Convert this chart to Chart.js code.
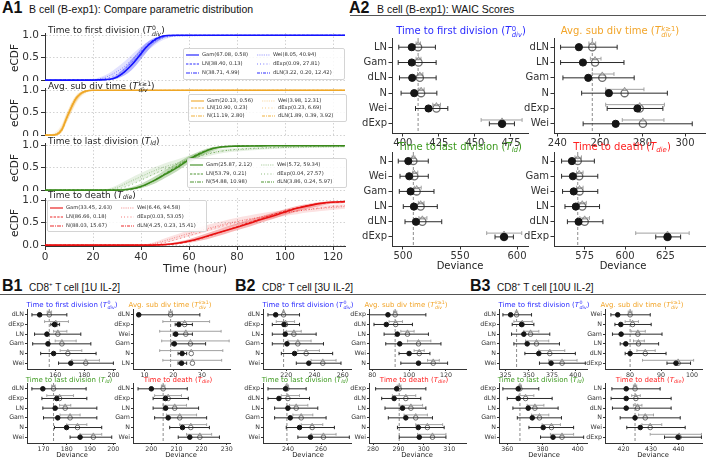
<!DOCTYPE html>
<html>
<head>
<meta charset="utf-8">
<script src="https://cdn.jsdelivr.net/npm/chart.js@4.4.1/dist/chart.umd.min.js"></script>
<style>
  body { margin: 0; width: 708px; height: 460px; position: relative; overflow: hidden; background: #fff;
         font-family: "DejaVu Sans", sans-serif; color: #222; }
  canvas { position: absolute; }
  .t { position: absolute; white-space: nowrap; line-height: 1; }
  .rule { position: absolute; height: 0; border-top: 1px solid #555; }
  .ss { display: inline-block; vertical-align: -0.45em; font-size: 0.68em; line-height: 0.95; margin-left: 0.5px; }
  .ss span { display: block; }
  sub { font-size: 0.7em; vertical-align: -0.3em; line-height: 0; }
  .lg { position: absolute; background: rgba(255,255,255,0.85); border: 1px solid #d4d4d4; border-radius: 2px; }
  .lg svg { position: absolute; }
  .lg .t { font-size: 5.2px; color: #333; }
</style>
</head>
<body>
<script>
// ---------- A1: eCDF curves (x = hours, y = cumulative fraction) ----------
const t0Hours = [0, 20, 25, 28, 30, 33, 36, 39, 42, 45, 48, 50, 55, 125];
const t0Gam   = [0, 0, 0.01, 0.03, 0.07, 0.18, 0.33, 0.52, 0.72, 0.87, 0.96, 0.99, 1, 1];
const t0LN    = [0, 0, 0.005, 0.02, 0.06, 0.17, 0.33, 0.53, 0.74, 0.89, 0.97, 0.99, 1, 1];
const t0Wei   = [0, 0.01, 0.06, 0.13, 0.19, 0.3, 0.45, 0.6, 0.73, 0.84, 0.92, 0.95, 0.985, 1];
const t0DExp  = [0, 0.005, 0.03, 0.08, 0.13, 0.24, 0.39, 0.56, 0.72, 0.85, 0.93, 0.96, 0.99, 1];
const t0GamLo = [0, 0, 0, 0.01, 0.03, 0.1, 0.22, 0.4, 0.6, 0.78, 0.9, 0.96, 0.99, 1];
const t0GamHi = [0, 0, 0.02, 0.06, 0.12, 0.27, 0.45, 0.64, 0.82, 0.93, 0.98, 1, 1, 1];
const t0WeiLo = [0, 0, 0.02, 0.06, 0.1, 0.2, 0.33, 0.48, 0.62, 0.75, 0.86, 0.91, 0.97, 1];
const t0WeiHi = [0, 0.03, 0.11, 0.2, 0.28, 0.41, 0.56, 0.7, 0.82, 0.91, 0.96, 0.98, 1, 1];

const subHours = [0, 3, 5, 7, 9, 10, 11, 13, 15, 17, 20, 125];
const subGam   = [0, 0, 0.02, 0.12, 0.38, 0.5, 0.62, 0.82, 0.93, 0.98, 1, 1];
const subLN    = [0, 0, 0.01, 0.1, 0.36, 0.5, 0.64, 0.84, 0.94, 0.985, 1, 1];
const subWei   = [0, 0.01, 0.05, 0.17, 0.4, 0.5, 0.6, 0.78, 0.9, 0.96, 0.995, 1];
const subDExp  = [0, 0, 0.03, 0.14, 0.38, 0.49, 0.6, 0.8, 0.92, 0.97, 0.995, 1];
const subGamLo = [0, 0, 0, 0.06, 0.28, 0.4, 0.52, 0.74, 0.88, 0.96, 0.99, 1];
const subGamHi = [0, 0.01, 0.05, 0.2, 0.48, 0.6, 0.72, 0.89, 0.97, 0.995, 1, 1];
const subWeiLo = [0, 0, 0.02, 0.1, 0.3, 0.4, 0.5, 0.7, 0.85, 0.93, 0.99, 1];
const subWeiHi = [0, 0.03, 0.1, 0.25, 0.5, 0.6, 0.7, 0.86, 0.95, 0.99, 1, 1];

const ldHours = [0, 25, 30, 35, 40, 45, 50, 55, 60, 65, 70, 75, 80, 90, 100, 110, 125];
const ldGam   = [0, 0, 0, 0.02, 0.08, 0.2, 0.35, 0.5, 0.68, 0.82, 0.93, 0.97, 0.98, 0.985, 0.99, 0.99, 0.99];
const ldLN    = [0, 0, 0, 0.01, 0.07, 0.2, 0.37, 0.53, 0.7, 0.84, 0.93, 0.97, 0.985, 0.99, 0.99, 0.99, 0.99];
const ldWei   = [0, 0, 0.06, 0.18, 0.3, 0.42, 0.52, 0.6, 0.7, 0.78, 0.84, 0.88, 0.9, 0.93, 0.95, 0.96, 0.97];
const ldDExp  = [0, 0, 0.02, 0.1, 0.22, 0.35, 0.47, 0.57, 0.67, 0.76, 0.83, 0.88, 0.91, 0.94, 0.96, 0.97, 0.98];
const ldGamLo = [0, 0, 0, 0, 0.04, 0.13, 0.27, 0.42, 0.6, 0.76, 0.88, 0.95, 0.97, 0.98, 0.985, 0.985, 0.985];
const ldGamHi = [0, 0, 0.01, 0.05, 0.14, 0.28, 0.44, 0.6, 0.76, 0.88, 0.96, 0.99, 1, 1, 1, 1, 1];
const ldWeiLo = [0, 0, 0.02, 0.11, 0.22, 0.33, 0.43, 0.52, 0.62, 0.71, 0.78, 0.83, 0.86, 0.9, 0.93, 0.94, 0.95];
const ldWeiHi = [0, 0.02, 0.11, 0.25, 0.38, 0.5, 0.6, 0.68, 0.77, 0.84, 0.89, 0.92, 0.94, 0.96, 0.97, 0.98, 0.99];

const dieHours = [0, 40, 45, 50, 55, 60, 65, 70, 75, 80, 85, 90, 95, 100, 105, 110, 115, 120, 125];
const dieGam   = [0, 0, 0, 0.01, 0.04, 0.09, 0.16, 0.24, 0.32, 0.4, 0.48, 0.57, 0.65, 0.74, 0.82, 0.88, 0.93, 0.96, 0.97];
const dieLN    = [0, 0, 0, 0.01, 0.03, 0.08, 0.15, 0.23, 0.32, 0.41, 0.5, 0.59, 0.68, 0.76, 0.83, 0.89, 0.93, 0.95, 0.96];
const dieWei   = [0, 0, 0.03, 0.1, 0.18, 0.26, 0.33, 0.4, 0.47, 0.53, 0.58, 0.63, 0.68, 0.72, 0.76, 0.79, 0.82, 0.84, 0.86];
const dieDExp  = [0, 0, 0.01, 0.06, 0.13, 0.21, 0.29, 0.37, 0.44, 0.51, 0.57, 0.62, 0.67, 0.72, 0.76, 0.8, 0.83, 0.86, 0.88];
const dieGamLo = [0, 0, 0, 0, 0.02, 0.05, 0.1, 0.17, 0.25, 0.33, 0.41, 0.5, 0.58, 0.67, 0.75, 0.82, 0.88, 0.92, 0.94];
const dieGamHi = [0, 0, 0.01, 0.03, 0.07, 0.13, 0.22, 0.31, 0.4, 0.48, 0.56, 0.64, 0.72, 0.8, 0.87, 0.92, 0.96, 0.98, 0.99];
const dieWeiLo = [0, 0, 0.01, 0.05, 0.12, 0.19, 0.26, 0.33, 0.39, 0.45, 0.5, 0.55, 0.6, 0.65, 0.69, 0.73, 0.76, 0.79, 0.81];
const dieWeiHi = [0, 0.01, 0.06, 0.15, 0.24, 0.33, 0.41, 0.48, 0.55, 0.61, 0.66, 0.71, 0.75, 0.79, 0.83, 0.86, 0.88, 0.9, 0.91];

const hourTicks = [0, 20, 40, 60, 80, 100, 120];
const cdfTicks = [0, 0.5, 1];

// legend text, column 1 then column 2
const t0Legend  = ['Gam(67.08, 0.58)', 'LN(38.40, 0.13)', 'N(38.71, 4.99)', 'Wei(8.05, 40.94)', 'dExp(0.09, 27.81)', 'dLN(3.22, 0.20, 12.42)'];
const subLegend = ['Gam(20.13, 0.56)', 'LN(10.90, 0.23)', 'N(11.19, 2.80)', 'Wei(3.98, 12.31)', 'dExp(0.23, 6.69)', 'dLN(1.89, 0.39, 3.92)'];
const ldLegend  = ['Gam(25.87, 2.12)', 'LN(53.79, 0.21)', 'N(54.88, 10.98)', 'Wei(5.72, 59.34)', 'dExp(0.04, 27.57)', 'dLN(3.86, 0.24, 5.97)'];
const dieLegend = ['Gam(33.45, 2.63)', 'LN(86.66, 0.18)', 'N(88.03, 15.67)', 'Wei(6.46, 94.58)', 'dExp(0.03, 53.05)', 'dLN(4.25, 0.23, 15.41)'];

// ---------- WAIC scores: filled dot = WAIC, open circle = PSIS-LOO, bars = intervals ----------
// A2 B cell
const a2T0Names = ['LN', 'Gam', 'dLN', 'N', 'Wei', 'dExp'];
const a2T0Dot = [406.2, 406.2, 406.5, 407.9, 417.8, 468.8];
const a2T0DotBar = [[397.2, 422.6], [396.8, 423.1], [397.7, 423.1], [398.8, 423.6], [408.8, 431.2], [460, 477.4]];
const a2T0Open = [410.6, 410.9, 411.8, 412.7, 423.3, 468.8];
const a2T0OpenBar = [[409.2, 412.2], [409.2, 412.6], [410.2, 413.9], [411.1, 414.8], [420.8, 426.1], [454.3, 482.7]];

const a2SubNames = ['dLN', 'LN', 'Gam', 'N', 'dExp', 'Wei'];
const a2SubDot = [250.1, 252, 254.5, 264.2, 277.6, 267.4];
const a2SubDotBar = [[241.5, 268.1], [241.5, 271.3], [242.6, 276.1], [251.4, 291.7], [263.4, 289.6], [252.1, 303.4]];
const a2SubOpen = [256.4, 257.7, 261.1, 271.6, 278.7, 280.2];
const a2SubOpenBar = [[254.8, 258], [255.5, 260.5], [256.4, 266.6], [262.7, 280.7], [262.7, 290.3], [270.5, 290.1]];

const a2LdNames = ['N', 'Wei', 'Gam', 'LN', 'dLN', 'dExp'];
const a2LdDot = [504.7, 505.5, 506.7, 509.6, 511.4, 588.6];
const a2LdDotBar = [[495.9, 522.2], [497.4, 522.2], [496.8, 527.2], [500.3, 530.1], [501.8, 534], [580.7, 596.8]];
const a2LdOpen = [509.1, 510, 512, 515.5, 517, 588.6];
const a2LdOpenBar = [[508, 510.5], [508.5, 513], [510, 516], [513.5, 518.5], [514, 521], [573.4, 604.1]];

const a2DieNames = ['N', 'Gam', 'Wei', 'LN', 'dLN', 'dExp'];
const a2DieDot = [567.1, 567.7, 568.2, 569.5, 571.2, 626.3];
const a2DieDotBar = [[560.7, 581], [560.7, 583.1], [561.3, 583.1], [562.8, 584.2], [564.3, 586.3], [619, 634.4]];
const a2DieOpen = [570.7, 571.6, 571.8, 573.5, 575, 626.3];
const a2DieOpenBar = [[569, 573], [570, 574], [570, 574], [571, 576], [572, 578], [606.6, 639.7]];

// B1 CD8 T cell 1U IL-2
const b1T0Names = ['dLN', 'dExp', 'LN', 'Gam', 'N', 'Wei'];
const b1T0Dot = [149.3, 159.5, 154.3, 155, 158.9, 170.7];
const b1T0DotBar = [[144, 168], [157, 163], [145.8, 177.6], [144.5, 184.5], [150, 188.1], [162.3, 200]];
const b1T0Open = [155.9, 160.4, 161.8, 164.6, 168.7, 181];
const b1T0OpenBar = [[154.5, 157.5], [152.7, 169.1], [158.9, 168], [160, 174.4], [163.4, 178.3], [171.4, 190.4]];

const b1SubNames = ['dLN', 'dExp', 'Wei', 'Gam', 'N', 'LN'];
const b1SubDot = [8, 22, 20.9, 20.4, 23.1, 22.9];
const b1SubDotBar = [[7.6, 29.3], [20.7, 26.7], [20, 26.7], [19.3, 31.3], [21.7, 24.7], [21.7, 24.7]];
const b1SubOpen = [19.1, 24, 24.4, 26, 26.3, 26.7];
const b1SubOpenBar = [[18.5, 19.7], [16.4, 32.7], [15.3, 36.7], [16, 39.5], [15.3, 37.3], [16.4, 36.9]];

const b1LdNames = ['dLN', 'dExp', 'LN', 'Gam', 'N', 'Wei'];
const b1LdDot = [169.7, 175.7, 175, 176.1, 179.9, 185.7];
const b1LdDotBar = [[165, 188.3], [169.3, 188.6], [169.7, 192.9], [170, 192.9], [174.7, 195], [181.4, 199.3]];
const b1LdOpen = [174.3, 176.9, 179.3, 181.4, 184.6, 191.4];
const b1LdOpenBar = [[173.5, 175], [171.4, 182.9], [176.9, 181.7], [177.1, 185.7], [180, 188.6], [185.7, 195]];

const b1DieNames = ['dLN', 'dExp', 'LN', 'Gam', 'N', 'Wei'];
const b1DieDot = [200, 205.6, 205.7, 206.7, 212.4, 215.3];
const b1DieDotBar = [[194.7, 214.3], [200.7, 214.7], [200.7, 218.8], [201.3, 222], [207.3, 223.1], [210.7, 227.1]];
const b1DieOpen = [204.7, 206.7, 209.3, 211.3, 215.7, 219.3];
const b1DieOpenBar = [[204, 205.4], [201.3, 212], [204.7, 214], [206, 218], [211.3, 222], [214, 224]];

// B2 CD8 T cell 3U IL-2
const b2T0Names = ['dLN', 'dExp', 'LN', 'Gam', 'N', 'Wei'];
const b2T0Dot = [212.5, 218.4, 219.3, 220.5, 225.9, 236];
const b2T0DotBar = [[207, 229.4], [210.1, 229.4], [210.1, 241.2], [210.1, 246.4], [216.5, 252.9], [227.1, 258.8]];
const b2T0Open = [218.1, 219.5, 225.4, 228.2, 234.1, 245.9];
const b2T0OpenBar = [[217.5, 218.8], [212.9, 225.9], [220, 230.6], [221.2, 237.6], [228.2, 243.5], [237.6, 255.3]];

const b2SubNames = ['dExp', 'dLN', 'LN', 'Gam', 'Wei', 'N'];
const b2SubDot = [88.5, 87.6, 93.6, 94.9, 100, 105.1];
const b2SubDotBar = [[76.4, 109.1], [80.9, 101.8], [86.4, 110.5], [87.3, 117.3], [94.5, 111.3], [95.5, 120.9]];
const b2SubOpen = [92.4, 92.7, 99.1, 105.1, 105.5, 113.1];
const b2SubOpenBar = [[91.5, 93.3], [89.1, 96.4], [95.5, 102.7], [99.1, 111.8], [102.7, 108.2], [110, 116.4]];

const b2LdNames = ['dExp', 'dLN', 'LN', 'Gam', 'N', 'Wei'];
const b2LdDot = [238.6, 234.6, 240, 241.4, 247, 253.6];
const b2LdDotBar = [[228, 251], [228, 253], [232, 258], [232, 263], [239, 268], [246, 277]];
const b2LdOpen = [239.4, 240, 245, 248, 254.6, 261.4];
const b2LdOpenBar = [[238.5, 240.4], [236, 247], [241, 252], [243, 255], [248, 261], [254, 269]];

const b2DieNames = ['dExp', 'dLN', 'LN', 'Gam', 'N', 'Wei'];
const b2DieDot = [289.3, 288.3, 291.6, 292.9, 297.8, 298.2];
const b2DieDotBar = [[281, 300.8], [283.4, 298.8], [284.7, 300.8], [286, 303.4], [289.6, 308], [290.3, 308.7]];
const b2DieOpen = [290.3, 292.9, 294.9, 296.8, 301.4, 303.4];
const b2DieOpenBar = [[289.5, 291], [287.6, 296.8], [290.3, 299.5], [292.2, 301.4], [296.8, 307.4], [297.5, 308.7]];

// B3 CD8 T cell 10U IL-2
const b3T0Names = ['dLN', 'dExp', 'LN', 'Gam', 'N', 'Wei'];
const b3T0Dot = [330.4, 342.1, 344.6, 348.2, 360.7, 373.9];
const b3T0DotBar = [[322.1, 352.9], [332.1, 355.4], [331.4, 372.5], [333.9, 382.9], [345.7, 400], [361.4, 410.7]];
const b3T0Open = [336.8, 342.9, 351.8, 358.2, 372.5, 385.7];
const b3T0OpenBar = [[335.5, 338], [333.9, 353.6], [344.6, 360.7], [346.4, 371.4], [360.7, 388.6], [371.4, 401.8]];

const b3SubNames = ['Wei', 'N', 'Gam', 'LN', 'dLN', 'dExp'];
const b3SubDot = [76, 77, 77.1, 78.6, 80, 94.8];
const b3SubDotBar = [[73.8, 86.5], [75.1, 86.8], [74.3, 90.3], [76.8, 89.2], [78.4, 91.6], [91.9, 99.5]];
const b3SubOpen = [80, 80.8, 82.5, 82.7, 84.9, 95.5];
const b3SubOpenBar = [[79.4, 80.6], [78.4, 82.7], [80.3, 84.9], [81.1, 84.6], [82.2, 88.1], [84, 100.5]];

const b3LdNames = ['dExp', 'dLN', 'LN', 'Gam', 'N', 'Wei'];
const b3LdDot = [366.2, 366.2, 371.9, 374.2, 380.4, 386];
const b3LdDotBar = [[357.5, 377.9], [360, 385.5], [363.2, 388.9], [365.7, 390.8], [372.3, 397.7], [378.9, 403.4]];
const b3LdOpen = [367.2, 370.4, 375.7, 378.3, 385.1, 391.1];
const b3LdOpenBar = [[366.3, 368.1], [366.6, 375.1], [371.3, 380.8], [373.8, 383.6], [379.8, 390.2], [384.5, 397.7]];

const b3DieNames = ['LN', 'Gam', 'dLN', 'N', 'Wei', 'dExp'];
const b3DieDot = [421, 421, 421, 424.2, 426.1, 439.8];
const b3DieDotBar = [[415.8, 433.3], [415.5, 437.3], [416, 437.3], [418.8, 440.6], [421.2, 442.4], [434.9, 448.3]];
const b3DieOpen = [424.2, 424.5, 425.1, 427.9, 429.7, 440.2];
const b3DieOpenBar = [[423.6, 424.8], [423, 426.1], [423.6, 426.7], [425.5, 430.9], [426.7, 433.9], [429.7, 448.3]];

// ---------------------------------------------------------------------------
Chart.defaults.font.family = '"DejaVu Sans", sans-serif';
Chart.defaults.color = '#333';

const BLUE = '20,20,255', ORANGE = '240,168,40', GREEN = '58,138,28', RED = '232,18,18';
const T0 = 'Time to first division (<i>T</i><span class="ss"><span>0</span><span><i>div</i></span></span>)';
const SUB = 'Avg. sub div time (<i>T</i><span class="ss"><span><i>k</i>≥1</span><span><i>div</i></span></span>)';
const LD = 'Time to last division (<i>T</i><sub><i>ld</i></sub>)';
const DIE = 'Time to death (<i>T</i><sub><i>die</i></sub>)';
const HEAD = 'font-family:"Liberation Sans",Arial,sans-serif;color:#111;';

function text(html, x, y, size, anchor, extra) {
  const d = document.createElement('div');
  d.className = 't';
  d.innerHTML = html;
  const tx = anchor === 'c' ? '-50%' : anchor === 'r' ? '-100%' : '0';
  d.style.cssText = `left:${x}px;top:${y}px;font-size:${size}px;transform:translate(${tx},-50%);` + (extra || '');
  document.body.appendChild(d);
  return d;
}

function rule(x, y, w) {
  const d = document.createElement('div');
  d.className = 'rule';
  d.style.cssText = `left:${x}px;top:${y}px;width:${w}px;`;
  document.body.appendChild(d);
}

function mount(left, top, w, h) {
  const c = document.createElement('canvas');
  c.width = w; c.height = h;
  c.style.left = left + 'px';
  c.style.top = top + 'px';
  document.body.appendChild(c);
  return c;
}

// ticks only where we want them (no extra ticks at the axis limits)
function tickList(values) {
  return s => { s.ticks = values.map(v => ({value: v})); };
}
function stepTicks(min, max, step) {
  const vals = [];
  for (let v = Math.ceil(min / step) * step; v <= max + 1e-9; v += step) vals.push(+v.toFixed(6));
  return vals;
}
function fixWidth(w) {
  return s => { s.width = w; s.paddingTop = 0; s.paddingBottom = 0; };
}
function fixHeight(h) {
  return s => { s.height = h; s.paddingLeft = 0; s.paddingRight = 0; };
}

// ---------- A1 eCDF panel ----------
function ecdfChart(top, plotH, hours, c, rgb, showX) {
  const yW = 45, plotW = 300, T = 6, R = 12, xH = showX ? 17 : 0;
  const col = a => `rgba(${rgb},${a})`;
  const pts = ys => ys.map((y, i) => ({x: hours[i], y}));
  const none = 'rgba(0,0,0,0)';
  new Chart(mount(0, top - T, yW + plotW + R, T + plotH + xH), {
    type: 'line',
    data: {datasets: [
      {data: pts(c.weiLo), borderColor: none, fill: false},
      {data: pts(c.weiHi), borderColor: none, fill: '-1', backgroundColor: col(0.12)},
      {data: pts(c.gamLo), borderColor: none, fill: false},
      {data: pts(c.gamHi), borderColor: none, fill: '-1', backgroundColor: col(0.3)},
      {data: pts(c.wei), borderColor: col(0.45), borderWidth: 1, borderDash: [1, 1.5]},
      {data: pts(c.dexp), borderColor: col(0.6), borderWidth: 1, borderDash: [1, 3]},
      {data: pts(c.ln), borderColor: col(0.85), borderWidth: 1, borderDash: [3, 1.5]},
      {data: pts(c.gam), borderColor: col(1), borderWidth: 1.6}
    ]},
    options: {
      responsive: false, animation: false, events: [],
      layout: {padding: {top: T, right: R, left: 0, bottom: 0}, autoPadding: false},
      plugins: {legend: {display: false}, tooltip: {enabled: false}},
      elements: {point: {radius: 0}, line: {cubicInterpolationMode: 'monotone'}},
      scales: {
        x: {
          type: 'linear', min: 0, max: 125,
          afterBuildTicks: tickList(hourTicks), afterFit: fixHeight(xH),
          ticks: {display: showX, font: {size: 10.5}, padding: 1, maxRotation: 0},
          grid: {color: '#d2d2d2', drawTicks: showX, tickLength: 4, tickColor: '#333'},
          border: {color: '#333', dash: [1.5, 2]}
        },
        y: {
          min: -0.02, max: 1.05,
          afterBuildTicks: tickList(cdfTicks), afterFit: fixWidth(yW),
          ticks: {font: {size: 10.5}, padding: 2, callback: v => v.toFixed(1)},
          grid: {color: '#d2d2d2', tickLength: 4, tickColor: '#333'},
          border: {color: '#333', dash: [1.5, 2]}
        }
      }
    }
  });
}

// legend box drawn as HTML, samples mimic the dash pattern of each fit
const legendDash = ['', '2.4,1.2', '4,1,1,1', '0.8,1', '0.8,2.4', '3,1,1,1'];
const legendAlpha = [1, 0.9, 0.9, 0.5, 0.7, 0.9];
function legendBox(left, top, w, h, rows, rgb, entries) {
  const box = document.createElement('div');
  box.className = 'lg';
  box.style.cssText = `left:${left}px;top:${top}px;width:${w}px;height:${h}px;`;
  entries.forEach((label, i) => {
    const col = Math.floor(i / 3), y = rows[i % 3];
    const x0 = col ? 73 : 2;
    box.insertAdjacentHTML('beforeend',
      `<svg style="left:${x0}px;top:${y - 2}px" width="13" height="4"><line x1="0" y1="2" x2="13" y2="2" ` +
      `stroke="rgba(${rgb},${legendAlpha[i]})" stroke-width="1.1" stroke-dasharray="${legendDash[i]}"/></svg>`);
    const t = document.createElement('div');
    t.className = 't';
    t.textContent = label;
    t.style.cssText = `left:${x0 + 16}px;top:${y}px;transform:translateY(-50%);`;
    box.appendChild(t);
  });
  document.body.appendChild(box);
}

// ---------- WAIC panel ----------
function waicChart(left, top, plotW, plotH, names, dot, dotBar, open, openBar, min, max, step, small) {
  const yW = small ? 24 : 36, xH = small ? 10 : 15, T = 4, R = small ? 8 : 12;
  const fs = small ? 6.3 : 10;
  const r = small ? 2.3 : 3.6, triR = small ? 1.4 : 2.1, cap = small ? 1.7 : 2.4;
  const lift = small ? 0.3 : 0.25;
  const bars = (b, dy) => b.flatMap((p, i) => [{x: p[0], y: i + dy}, {x: p[1], y: i + dy}, {x: null, y: null}]);
  const caps = (b, dy) => b.flatMap((p, i) => [{x: p[0], y: i + dy}, {x: p[1], y: i + dy}]);
  new Chart(mount(left - yW, top - T, yW + plotW + R, T + plotH + xH), {
    type: 'scatter',
    data: {datasets: [
      {data: dot.map((v, i) => ({x: v, y: i})), pointRadius: r, pointBackgroundColor: '#151515',
       pointBorderColor: '#151515', order: 0},
      {data: bars(dotBar, 0), showLine: true, spanGaps: false, borderColor: '#2a2a2a', borderWidth: 1,
       pointRadius: 0, order: 1},
      {data: caps(dotBar, 0), pointStyle: 'line', pointRotation: 90, pointRadius: cap,
       pointBorderColor: '#2a2a2a', pointBorderWidth: 1, order: 1},
      {data: open.map((v, i) => ({x: v, y: i - lift})), pointStyle: 'triangle', pointRadius: triR,
       pointBackgroundColor: '#c4c4c4', pointBorderColor: '#8a8a8a', pointBorderWidth: 0.8, order: 2},
      {data: open.map((v, i) => ({x: v, y: i})), pointRadius: r, pointBackgroundColor: 'rgba(255,255,255,0.75)',
       pointBorderColor: '#6f6f6f', pointBorderWidth: small ? 1 : 1.3, order: 3},
      {data: bars(openBar, -lift), showLine: true, spanGaps: false, borderColor: '#a0a0a0', borderWidth: 1,
       pointRadius: 0, order: 4},
      {data: caps(openBar, -lift), pointStyle: 'line', pointRotation: 90, pointRadius: cap * 0.8,
       pointBorderColor: '#a0a0a0', pointBorderWidth: 1, order: 4},
      {data: [{x: open[0], y: -0.6}, {x: open[0], y: 5.6}], showLine: true, borderColor: '#8c8c8c',
       borderWidth: 1, borderDash: [3, 2], pointRadius: 0, order: 5}
    ]},
    options: {
      responsive: false, animation: false, events: [],
      layout: {padding: {top: T, right: R, left: 0, bottom: 0}, autoPadding: false},
      plugins: {legend: {display: false}, tooltip: {enabled: false}},
      scales: {
        x: {
          type: 'linear', min, max,
          afterBuildTicks: tickList(stepTicks(min, max, step)), afterFit: fixHeight(xH),
          ticks: {font: {size: fs}, padding: small ? 0.5 : 1, maxRotation: 0},
          grid: {drawOnChartArea: false, tickLength: small ? 2 : 3.5, tickColor: '#333'},
          border: {color: '#333'}
        },
        y: {
          type: 'linear', min: -0.6, max: 5.6, reverse: true,
          afterBuildTicks: tickList([0, 1, 2, 3, 4, 5]), afterFit: fixWidth(yW),
          ticks: {font: {size: fs}, padding: small ? 1 : 1.5, callback: v => names[v]},
          grid: {drawOnChartArea: false, tickLength: small ? 2 : 3.5, tickColor: '#333'},
          border: {color: '#333'}
        }
      }
    }
  });
}

// ---------- headings ----------
text('<b>A1</b>', 2, 8, 16, 'l', HEAD);
text('B cell (B-exp1): Compare parametric distribution', 29, 9, 10.5, 'l', HEAD);
text('<b>A2</b>', 349, 8, 16, 'l', HEAD);
text('B cell (B-exp1): WAIC Scores', 377, 9, 10.5, 'l', HEAD);
rule(350, 15, 356);
rule(0, 294, 706);
[['B1', '1U'], ['B2', '3U'], ['B3', '10U']].forEach(([lab, dose], k) => {
  const x0 = [2, 235, 470][k];
  text(`<b>${lab}</b>`, x0, 286, 16, 'l', HEAD);
  text(`CD8<sup style="font-size:0.6em">+</sup> T cell [${dose} IL-2]`, x0 + 27, 287, 10, 'l', HEAD);
});

// ---------- A1 ----------
ecdfChart(33, 48, t0Hours, {gam: t0Gam, ln: t0LN, wei: t0Wei, dexp: t0DExp, gamLo: t0GamLo, gamHi: t0GamHi, weiLo: t0WeiLo, weiHi: t0WeiHi}, BLUE, false);
ecdfChart(88, 48, subHours, {gam: subGam, ln: subLN, wei: subWei, dexp: subDExp, gamLo: subGamLo, gamHi: subGamHi, weiLo: subWeiLo, weiHi: subWeiHi}, ORANGE, false);
ecdfChart(143, 48, ldHours, {gam: ldGam, ln: ldLN, wei: ldWei, dexp: ldDExp, gamLo: ldGamLo, gamHi: ldGamHi, weiLo: ldWeiLo, weiHi: ldWeiHi}, GREEN, false);
ecdfChart(198, 48, dieHours, {gam: dieGam, ln: dieLN, wei: dieWei, dexp: dieDExp, gamLo: dieGamLo, gamHi: dieGamHi, weiLo: dieWeiLo, weiHi: dieWeiHi}, RED, true);

text(T0, 48, 31, 9, 'l');
text(SUB, 48, 87, 9, 'l');
text(LD, 48, 141, 9, 'l');
text(DIE, 48, 195, 9, 'l');
[57.5, 112.5, 167.5, 222.5].forEach(y => text('eCDF', 14, y, 10.5, 'c', 'transform:translate(-50%,-50%) rotate(-90deg);'));
text('Time (hour)', 195, 268, 11, 'c');

legendBox(183, 48, 160, 30, [5.5, 14.5, 23.5], BLUE, t0Legend);
legendBox(188, 94, 157, 26, [5.5, 13.3, 21], ORANGE, subLegend);
legendBox(187, 158, 158, 28, [6, 14.5, 23], GREEN, ldLegend);
legendBox(47, 200, 158, 30, [6.5, 15.5, 24.5], RED, dieLegend);

// ---------- A2 ----------
waicChart(392, 38, 136, 95, a2T0Names, a2T0Dot, a2T0DotBar, a2T0Open, a2T0OpenBar, 392.5, 486.8, 25, false);
waicChart(554, 38, 151, 95, a2SubNames, a2SubDot, a2SubDotBar, a2SubOpen, a2SubOpenBar, 238.4, 309.4, 20, false);
waicChart(392, 152, 136, 94, a2LdNames, a2LdDot, a2LdDotBar, a2LdOpen, a2LdOpenBar, 490.4, 609.6, 50, false);
waicChart(554, 152, 151, 94, a2DieNames, a2DieDot, a2DieDotBar, a2DieOpen, a2DieOpenBar, 556, 649.5, 25, false);

text(T0, 461, 32, 10, 'c', 'color:#2b2bff');
text(SUB, 620, 32, 10, 'c', 'color:#f2a52a');
text(LD, 460, 147, 10, 'c', 'color:#3d9a1f');
text(DIE, 622, 147, 10, 'c', 'color:#ff1f1f');
text('Deviance', 460, 266, 10, 'c');
text('Deviance', 623, 266, 10, 'c');

// ---------- B1 - B3 ----------
const bGroups = [
  {dx: 0, p: [
    [b1T0Names, b1T0Dot, b1T0DotBar, b1T0Open, b1T0OpenBar, 140.6, 201.1, 20],
    [b1SubNames, b1SubDot, b1SubDotBar, b1SubOpen, b1SubOpenBar, 6, 39.8, 10],
    [b1LdNames, b1LdDot, b1LdDotBar, b1LdOpen, b1LdOpenBar, 162.9, 200.7, 10],
    [b1DieNames, b1DieDot, b1DieDotBar, b1DieOpen, b1DieOpenBar, 192.7, 231.3, 10]]},
  {dx: 236, p: [
    [b2T0Names, b2T0Dot, b2T0DotBar, b2T0Open, b2T0OpenBar, 203.5, 265.9, 20],
    [b2SubNames, b2SubDot, b2SubDotBar, b2SubOpen, b2SubOpenBar, 78.2, 130.9, 20],
    [b2LdNames, b2LdDot, b2LdDotBar, b2LdOpen, b2LdOpenBar, 225, 278, 20],
    [b2DieNames, b2DieDot, b2DieDotBar, b2DieOpen, b2DieOpenBar, 278.4, 316.6, 10]]},
  {dx: 472, p: [
    [b3T0Names, b3T0Dot, b3T0DotBar, b3T0Open, b3T0OpenBar, 317.9, 412.5, 25],
    [b3SubNames, b3SubDot, b3SubDotBar, b3SubOpen, b3SubOpenBar, 71.9, 103.2, 10],
    [b3LdNames, b3LdDot, b3LdDotBar, b3LdOpen, b3LdOpenBar, 355.3, 405.3, 20],
    [b3DieNames, b3DieDot, b3DieDotBar, b3DieOpen, b3DieOpenBar, 413.3, 448.5, 10]]}
];
const bBoxes = [[27, 309, 88], [133, 309, 97], [27, 383, 88], [133, 383, 97]];
const bTitles = [[T0, 72, 306, '#2b2bff'], [SUB, 170, 306, '#f2a52a'], [LD, 69, 380, '#3d9a1f'], [DIE, 178, 380, '#ff1f1f']];

bGroups.forEach(g => {
  g.p.forEach((args, k) => {
    const [x, y, w] = bBoxes[k];
    waicChart(g.dx + x, y, w, 60, ...args, true);
    const [html, cx, cy, color] = bTitles[k];
    text(html, g.dx + cx, cy, 7, 'c', `color:${color}`);
  });
  text('Deviance', g.dx + 72, 455, 6.8, 'c');
  text('Deviance', g.dx + 181, 455, 6.8, 'c');
});
</script>
</body>
</html>
